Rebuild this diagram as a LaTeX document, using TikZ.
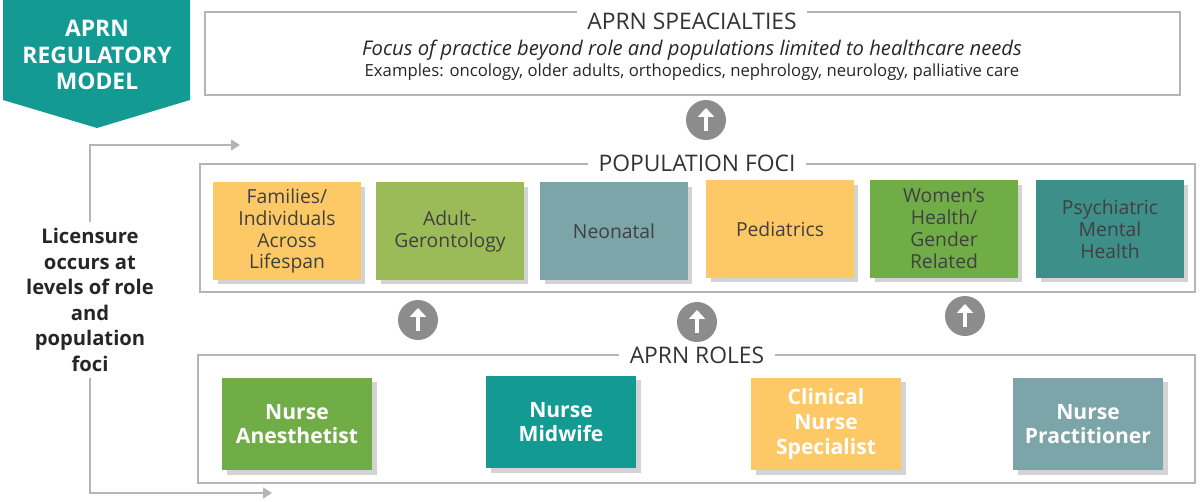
\documentclass[tikz,border=0pt]{standalone}
\usepackage{fontspec}
\setmainfont{Open Sans}
\usetikzlibrary{positioning, shadows, arrows.meta}
\definecolor{tealdark}{HTML}{139A93}
\definecolor{foyellow}{HTML}{FDC966}
\definecolor{folgreen}{HTML}{9BBB59}
\definecolor{fogreen}{HTML}{70AD47}
\definecolor{fogray}{HTML}{7BA5A8}
\definecolor{foteal}{HTML}{3D8F8A}
\definecolor{linegray}{HTML}{B5B5B5}
\tikzset{
  frame/.style={draw=linegray, line width=0.8pt},
  title/.style={fill=white, inner xsep=6pt, font=\fontsize{13}{13}\selectfont, text=black!80},
  focus/.style={minimum width=2.95cm, minimum height=1.95cm, align=center, font=\fontsize{11}{12.5}\selectfont, text=black!75, drop shadow={opacity=0.35}},
  role/.style={minimum width=3cm, minimum height=1.85cm, align=center, text=white, font=\bfseries\fontsize{12}{14}\selectfont, drop shadow={opacity=0.35}},
  uparrow/.style={circle, fill=black!45, minimum size=0.8cm, inner sep=0pt},
}
\begin{document}
\begin{tikzpicture}[x=0.02cm, y=-0.02cm]
	\useasboundingbox (0,0) rectangle (1200,501);
	% Banner
	\fill[tealdark] (3,0) -- (190,0) -- (190,100) -- (97,128) -- (3,100) -- cycle;
	\node[text=white, align=center, font=\bfseries\fontsize{13}{15}\selectfont] (banner) at (97,55) {APRN\\REGULATORY\\MODEL};
	% Specialties
	\draw[frame] (205,12) rectangle (1180,95);
	\node[title] (spec) at (692,21) {APRN SPEACIALTIES};
	\node[font=\itshape\fontsize{11.5}{12}\selectfont, text=black!85] (specfocus) at (692,50) {Focus of practice beyond role and populations limited to healthcare needs};
	\node[font=\fontsize{9.5}{10}\selectfont, text=black!85] (specex) at (692,72) {Examples: oncology, older adults, orthopedics, nephrology, neurology, palliative care};
	% Population foci
	\draw[frame] (200,164) rectangle (1195,292);
	\node[title] (pop) at (697,163) {POPULATION FOCI};
	\node[focus, fill=foyellow] (f1) at (287,231) {Families/\\Individuals\\Across\\Lifespan};
	\node[focus, fill=folgreen] (f2) at (450,231) {Adult-\\Gerontology};
	\node[focus, fill=fogray] (f3) at (614,231) {Neonatal};
	\node[focus, fill=foyellow] (f4) at (780,229) {Pediatrics};
	\node[focus, fill=fogreen] (f5) at (944,229) {Women’s\\Health/\\Gender\\Related};
	\node[focus, fill=foteal] (f6) at (1110,229) {Psychiatric\\Mental\\Health};
	% Roles
	\draw[frame] (198,355) rectangle (1195,483);
	\node[title] (roles) at (697,355) {APRN ROLES};
	\node[role, fill=fogreen] (r1) at (297,424) {Nurse\\Anesthetist};
	\node[role, fill=tealdark] (r2) at (561,422) {Nurse\\Midwife};
	\node[role, fill=foyellow] (r3) at (826,424) {Clinical\\Nurse\\Specialist};
	\node[role, fill=fogray] (r4) at (1088,424) {Nurse\\Practitioner};
	% Up arrows
	\foreach \n/\x/\y in {a1/706/120, a2/418/320, a3/697/322, a4/965/316} {
		\node[uparrow] (\n) at (\x,\y) {};
		\draw[white, line width=2.2pt, -{Triangle[length=5pt,width=9pt]}] ([yshift=-0.22cm]\n.center) -- ([yshift=0.24cm]\n.center);
	}
	% Licensure bracket
	\node[align=center, font=\bfseries\fontsize{11.5}{14.5}\selectfont, text=black!85] (lic) at (90,300) {Licensure\\occurs at\\levels of role\\and\\population\\foci};
	\coordinate (ltop) at (90,145);
	\coordinate (ltopend) at (240,145);
	\coordinate (lbot) at (90,493);
	\coordinate (lbotend) at (272,493);
	\draw[linegray, line width=1.2pt, -{Triangle[length=5pt,width=6pt]}] (lic.north) -- (ltop) -- (ltopend);
	\draw[linegray, line width=1.2pt, -{Triangle[length=5pt,width=6pt]}] (lic.south) -- (lbot) -- (lbotend);
\end{tikzpicture}
\end{document}
